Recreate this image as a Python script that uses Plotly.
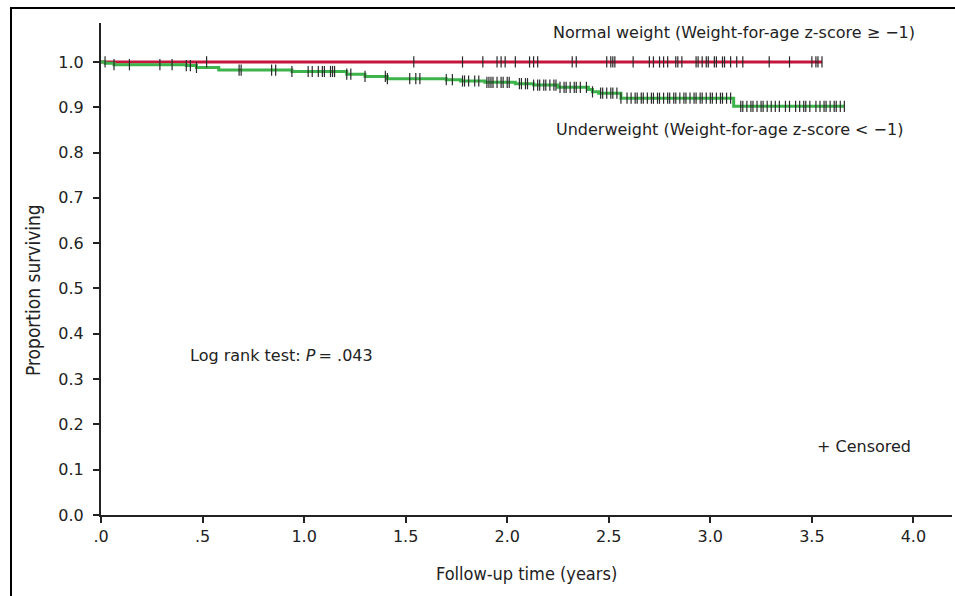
import numpy as np
import plotly.graph_objects as go

# ---- data ----
# Normal weight group: no events, survival stays at 1.0
normal_step_t = [0.0, 3.55]
normal_step_s = [1.0, 1.0]
normal_censor_t = [0.02, 0.52, 1.54, 1.78, 1.88, 1.95, 1.97, 1.99, 2.04, 2.11, 2.13, 2.15,
                   2.32, 2.34, 2.49, 2.51, 2.52, 2.53, 2.62, 2.70, 2.72, 2.75, 2.77, 2.79,
                   2.83, 2.84, 2.86, 2.93, 2.94, 2.96, 2.98, 2.99, 3.02, 3.03, 3.06, 3.07,
                   3.10, 3.13, 3.16, 3.29, 3.39, 3.50, 3.52, 3.53, 3.55]

# Underweight group: step function (event times and survival after event)
under_step_t = [0.0, 0.02, 0.064, 0.42, 0.47, 0.58, 0.94, 1.21, 1.30, 1.41, 1.70, 1.77,
                1.89, 2.04, 2.13, 2.25, 2.40, 2.42, 2.45, 2.56, 3.115, 3.66]
under_step_s = [1.0, 0.997, 0.994, 0.992, 0.988, 0.982, 0.979, 0.973, 0.968, 0.963, 0.961,
                0.958, 0.955, 0.952, 0.949, 0.944, 0.939, 0.934, 0.931, 0.920, 0.902, 0.902]
under_censor_t = [0.064, 0.14, 0.29, 0.35, 0.42, 0.44, 0.47, 0.68, 0.69, 0.84, 0.86, 0.94,
                  1.02, 1.04, 1.07, 1.09, 1.10, 1.13, 1.14, 1.15, 1.21, 1.23, 1.30, 1.40,
                  1.41, 1.52, 1.55, 1.57, 1.70, 1.73, 1.78, 1.79, 1.81, 1.84, 1.86, 1.90,
                  1.91, 1.92, 1.93, 1.95, 1.97, 1.98, 2.00, 2.01, 2.06, 2.07, 2.09, 2.10,
                  2.13, 2.15, 2.16, 2.18, 2.19, 2.21, 2.23, 2.24, 2.26, 2.28, 2.29, 2.31,
                  2.33, 2.34, 2.36, 2.39, 2.42, 2.46, 2.47, 2.49, 2.51, 2.52, 2.54, 2.56,
                  2.59, 2.61, 2.63, 2.64, 2.66, 2.67, 2.69, 2.71, 2.72, 2.74, 2.75, 2.77,
                  2.79, 2.80, 2.82, 2.83, 2.85, 2.87, 2.88, 2.90, 2.92, 2.93, 2.95, 2.96,
                  2.98, 3.00, 3.01, 3.03, 3.05, 3.06, 3.08, 3.10, 3.15, 3.16, 3.18, 3.20,
                  3.21, 3.23, 3.25, 3.26, 3.28, 3.30, 3.32, 3.34, 3.37, 3.39, 3.42, 3.44,
                  3.46, 3.47, 3.49, 3.52, 3.54, 3.56, 3.57, 3.59, 3.61, 3.62, 3.64, 3.66]

y_ticks = [0.0, 0.1, 0.2, 0.3, 0.4, 0.5, 0.6, 0.7, 0.8, 0.9, 1.0]
y_tick_labels = ["0.0", "0.1", "0.2", "0.3", "0.4", "0.5", "0.6", "0.7", "0.8", "0.9", "1.0"]
x_ticks = [0.0, 0.5, 1.0, 1.5, 2.0, 2.5, 3.0, 3.5, 4.0]
x_tick_labels = [".0", ".5", "1.0", "1.5", "2.0", "2.5", "3.0", "3.5", "4.0"]


def surv_at(step_t, step_s, times):
    st = np.asarray(step_t)
    ss = np.asarray(step_s)
    idx = np.searchsorted(st, np.asarray(times), side="right") - 1
    return ss[np.clip(idx, 0, len(ss) - 1)]


RED = "#c4153c"
GREEN = "#3cb44b"
MARK = "#2a2a2a"
TXT = "#222222"
TICKFONT = "DejaVu Sans, Liberation Sans, Arial, sans-serif"
TITLEFONT = "DejaVu Sans Condensed, Liberation Sans Narrow, Arial Narrow, sans-serif"

fig = go.Figure()

fig.add_trace(go.Scatter(x=under_step_t, y=under_step_s, mode="lines",
                         line=dict(color="#333333", width=1, shape="hv"),
                         hoverinfo="skip", showlegend=False))
fig.add_trace(go.Scatter(x=normal_step_t, y=normal_step_s, mode="lines",
                         line=dict(color=RED, width=3, shape="hv"),
                         hoverinfo="skip", showlegend=False))
fig.add_trace(go.Scatter(x=under_step_t, y=under_step_s, mode="lines",
                         line=dict(color=GREEN, width=3, shape="hv"),
                         hoverinfo="skip", showlegend=False))

fig.add_trace(go.Scatter(x=normal_censor_t,
                         y=surv_at(normal_step_t, normal_step_s, normal_censor_t),
                         mode="markers",
                         marker=dict(symbol="line-ns", size=8,
                                     line=dict(color=MARK, width=1.2)),
                         hoverinfo="skip", showlegend=False))
fig.add_trace(go.Scatter(x=under_censor_t,
                         y=surv_at(under_step_t, under_step_s, under_censor_t),
                         mode="markers",
                         marker=dict(symbol="line-ns", size=8,
                                     line=dict(color=MARK, width=1.2)),
                         hoverinfo="skip", showlegend=False))

fig.update_layout(
    width=955, height=596,
    margin=dict(l=101, r=3, t=23, b=81),
    paper_bgcolor="white", plot_bgcolor="white",
    showlegend=False, hovermode=False,
    font=dict(family=TICKFONT, size=16, color=TXT),
    xaxis=dict(range=[0, 4.19], tickvals=x_ticks, ticktext=x_tick_labels,
               showgrid=False, zeroline=False, showline=True, linecolor=TXT,
               linewidth=2, ticks="outside", ticklen=6, tickwidth=1.5,
               tickcolor=TXT, tickfont=dict(family=TICKFONT, size=16),
               automargin=False),
    yaxis=dict(range=[0, 1.086], tickvals=y_ticks, ticktext=y_tick_labels,
               showgrid=False, zeroline=False, showline=True, linecolor=TXT,
               linewidth=2, ticks="outside", ticklen=6, tickwidth=1.5,
               tickcolor=TXT, tickfont=dict(family=TICKFONT, size=16),
               ticklabelstandoff=6, automargin=False),
)

# axis titles
fig.add_annotation(x=0.5, y=-58 / 492, xref="paper", yref="paper",
                   xanchor="center", yanchor="middle",
                   text="Follow-up time (years)", showarrow=False,
                   font=dict(family=TITLEFONT, size=18, color=TXT))
fig.add_annotation(x=(33 - 101) / 851, y=(515 - 290) / 492, xref="paper", yref="paper",
                   xanchor="center", yanchor="middle", textangle=-90,
                   text="Proportion surviving", showarrow=False,
                   font=dict(family=TITLEFONT, size=19, color=TXT))

fig.add_annotation(x=4.02, y=1.064, xref="x", yref="y", xanchor="right", yanchor="middle",
                   text="Normal weight (Weight-for-age z-score \u2265 \u22121)",
                   showarrow=False, font=dict(size=16, color=TXT))
fig.add_annotation(x=3.96, y=0.85, xref="x", yref="y", xanchor="right", yanchor="middle",
                   text="Underweight (Weight-for-age z-score &lt; \u22121)",
                   showarrow=False, font=dict(size=16, color=TXT))
fig.add_annotation(x=0.43, y=0.353, xref="x", yref="y", xanchor="left", yanchor="middle",
                   text="Log rank test: <i>P</i>\u2009= .043",
                   showarrow=False, font=dict(size=16, color=TXT))
fig.add_annotation(x=4.0, y=0.152, xref="x", yref="y", xanchor="right", yanchor="middle",
                   text="+ Censored",
                   showarrow=False, font=dict(size=16, color=TXT))

# outer frame (left and top edges visible, extends past the right/bottom of the image)
fig.add_shape(type="rect", xref="paper", yref="paper",
              x0=(11 - 101) / 851, x1=1.2, y0=-0.3, y1=(515 - 8) / 492,
              line=dict(color="black", width=2), fillcolor="rgba(0,0,0,0)", layer="below")

fig.write_html("out.html",
               config={"displayModeBar": False},
               post_script="document.body.style.margin='0';"
                           "document.body.style.overflow='hidden';")
